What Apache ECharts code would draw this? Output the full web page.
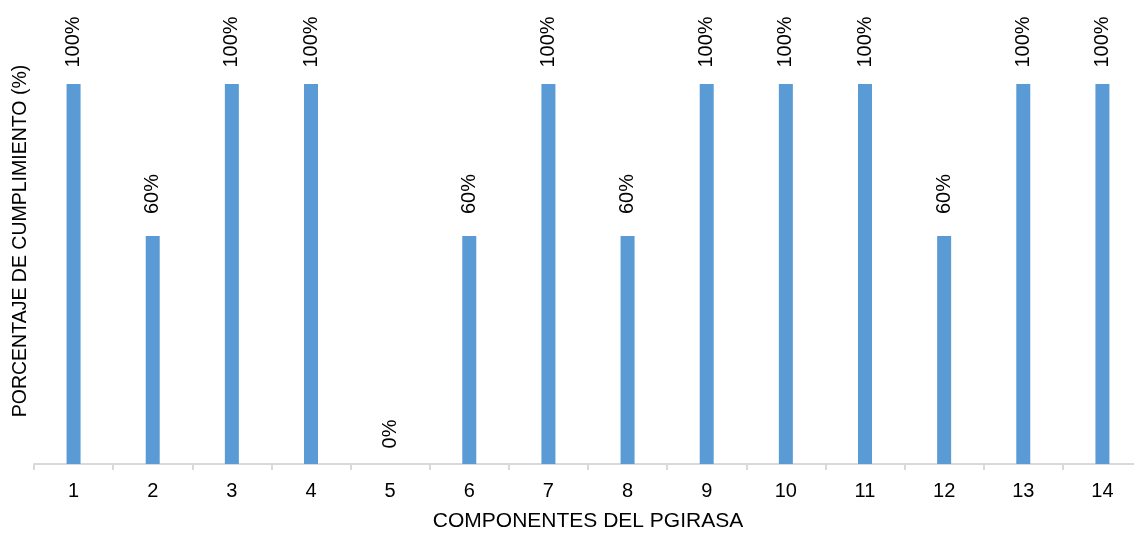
<!DOCTYPE html>
<html>
<head>
<meta charset="utf-8">
<script src="https://cdn.jsdelivr.net/npm/echarts@6/dist/echarts.min.js"></script>
<style>
  html, body { margin: 0; padding: 0; background: #fff; }
  #chart { width: 1134px; height: 533px; }
</style>
</head>
<body>
<div id="chart"></div>
<script>
// componentes del PGIRASA (eje x)
const componentes = ['1', '2', '3', '4', '5', '6', '7', '8', '9', '10', '11', '12', '13', '14'];
// porcentaje de cumplimiento de cada componente
const cumplimiento = [100, 60, 100, 100, 0, 60, 100, 60, 100, 100, 100, 60, 100, 100];

const FONT = '"Liberation Sans", Arial, sans-serif';

const myChart = echarts.init(document.getElementById('chart'));

// cada barra lleva su etiqueta girada encima; la de 0% va un poco más baja
const barData = cumplimiento.map(v => ({
  value: v,
  label: { distance: v === 0 ? 30 : 42 }
}));

myChart.setOption({
  backgroundColor: '#fff',
  animation: false,
  grid: {
    left: 34,
    right: -8,
    top: 18,
    bottom: 69,
    outerBoundsMode: 'none',
    containLabel: false,
  },
  xAxis: {
    type: 'category',
    data: componentes,
    name: 'COMPONENTES DEL PGIRASA',
    nameLocation: 'middle',
    nameGap: 47,
    nameTextStyle: {
      color: '#000',
      fontFamily: FONT,
      fontSize: 21,
    },
    axisLine: {
      lineStyle: { color: '#d9d9d9', width: 2 },
    },
    axisTick: {
      show: true,
      length: 6,
      lineStyle: { color: '#d9d9d9', width: 2 },
    },
    axisLabel: {
      color: '#000',
      fontFamily: FONT,
      fontSize: 20,
      margin: 17,
    },
  },
  yAxis: {
    type: 'value',
    min: 0,
    max: 117.37,
    name: 'PORCENTAJE DE CUMPLIMIENTO (%)',
    nameLocation: 'middle',
    nameGap: 3,
    nameTextStyle: {
      color: '#000',
      fontFamily: FONT,
      fontSize: 19.5,
    },
    axisLine: { show: false },
    axisTick: { show: false },
    axisLabel: { show: false },
    splitLine: { show: false },
  },
  series: [
    {
      type: 'bar',
      data: barData,
      barWidth: 14,
      itemStyle: { color: '#5b9bd5' },
      label: {
        show: true,
        position: 'top',
        rotate: 90,
        align: 'center',
        verticalAlign: 'middle',
        formatter: '{c}%',
        color: '#000',
        fontFamily: FONT,
        fontSize: 20,
      },
    },
  ],
});
</script>
</body>
</html>
